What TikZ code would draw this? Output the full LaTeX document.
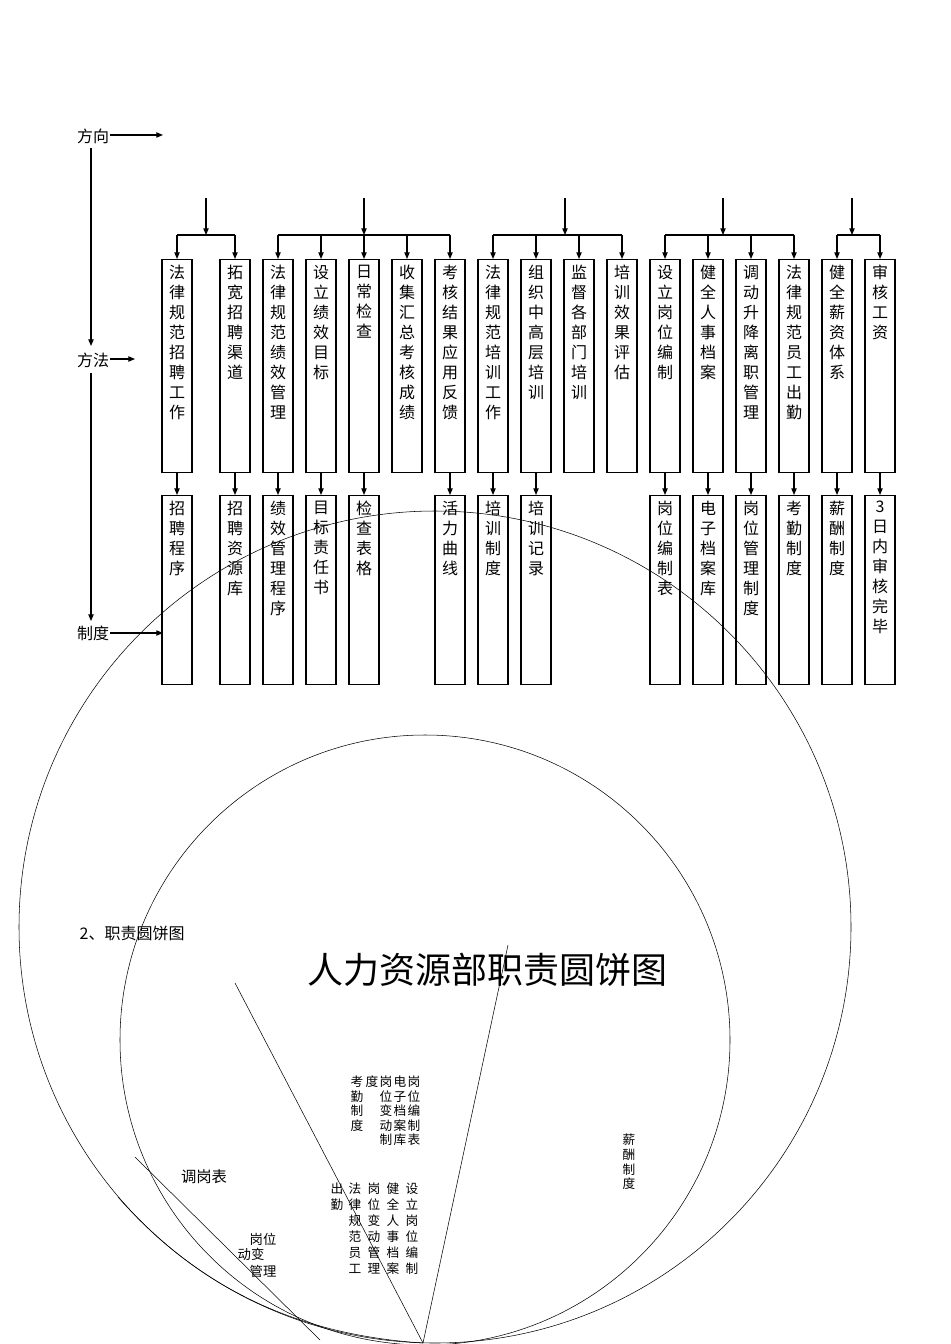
\documentclass[tikz,border=0pt]{standalone}
\usepackage{fontspec}
\setmainfont{Noto Sans CJK SC}
\usetikzlibrary{arrows.meta}
\tikzset{
 box/.style={draw,thick,minimum width=22.5pt,anchor=north,inner sep=0pt},
 vtxt/.style={align=center,font=\fontsize{12}{15}\selectfont,anchor=north},
 arr/.style={-{Triangle[length=5pt,width=4pt]},thick},
 small/.style={align=center,font=\fontsize{9.5}{10.8}\selectfont,anchor=north,inner sep=0pt},
 lbl/.style={font=\fontsize{12}{14}\selectfont}
}
\newcommand{\colbox}[5]{% name, x, ytop, ybot, text
 \node[box,minimum height={(#4-#3)*0.75pt}] (#1) at (#2,#3) {};
 \node[vtxt,inner sep=0pt] at (#2,#3+6) {#5};
}
\begin{document}
\begin{tikzpicture}[x=0.75pt,y=-0.75pt]
\useasboundingbox (0,0) rectangle (950,1344);
% left axis
\node[lbl] (fx) at (93,136) {方向};
\node[lbl] (ff) at (93,360) {方法};
\node[lbl] (zd) at (93,633) {制度};
\coordinate (fxe) at (163,135);
\coordinate (ffe) at (135,359);
\coordinate (zde) at (163,633);
\draw[arr] (110,135) -- (fxe);
\draw[arr] (110,359) -- (ffe);
\draw[arr] (110,633) -- (zde);
\draw[arr] (91,148) -- (91,346);
\draw[arr] (91,373) -- (91,621);
% top boxes
\colbox{a1}{177}{259}{472}{法\\律\\规\\范\\招\\聘\\工\\作}
\colbox{a2}{235}{259}{472}{拓\\宽\\招\\聘\\渠\\道}
\colbox{a3}{278}{259}{472}{法\\律\\规\\范\\绩\\效\\管\\理}
\colbox{a4}{321}{259}{472}{设\\立\\绩\\效\\目\\标}
\colbox{a5}{364}{259}{472}{日\\常\\检\\查}
\colbox{a6}{407}{259}{472}{收\\集\\汇\\总\\考\\核\\成\\绩}
\colbox{a7}{450}{259}{472}{考\\核\\结\\果\\应\\用\\反\\馈}
\colbox{a8}{493}{259}{472}{法\\律\\规\\范\\培\\训\\工\\作}
\colbox{a9}{536}{259}{472}{组\\织\\中\\高\\层\\培\\训}
\colbox{a10}{579}{259}{472}{监\\督\\各\\部\\门\\培\\训}
\colbox{a11}{622}{259}{472}{培\\训\\效\\果\\评\\估}
\colbox{a12}{665}{259}{472}{设\\立\\岗\\位\\编\\制}
\colbox{a13}{708}{259}{472}{健\\全\\人\\事\\档\\案}
\colbox{a14}{751}{259}{472}{调\\动\\升\\降\\离\\职\\管\\理}
\colbox{a15}{794}{259}{472}{法\\律\\规\\范\\员\\工\\出\\勤}
\colbox{a16}{837}{259}{472}{健\\全\\薪\\资\\体\\系}
\colbox{a17}{880}{259}{472}{审\\核\\工\\资}
% bottom boxes
\colbox{b1}{177}{495}{684}{招\\聘\\程\\序}
\colbox{b2}{235}{495}{684}{招\\聘\\资\\源\\库}
\colbox{b3}{278}{495}{684}{绩\\效\\管\\理\\程\\序}
\colbox{b4}{321}{495}{684}{目\\标\\责\\任\\书}
\colbox{b5}{364}{495}{684}{检\\查\\表\\格}
\colbox{b7}{450}{495}{684}{活\\力\\曲\\线}
\colbox{b8}{493}{495}{684}{培\\训\\制\\度}
\colbox{b9}{536}{495}{684}{培\\训\\记\\录}
\colbox{b12}{665}{495}{684}{岗\\位\\编\\制\\表}
\colbox{b13}{708}{495}{684}{电\\子\\档\\案\\库}
\colbox{b14}{751}{495}{684}{岗\\位\\管\\理\\制\\度}
\colbox{b15}{794}{495}{684}{考\\勤\\制\\度}
\colbox{b16}{837}{495}{684}{薪\\酬\\制\\度}
\colbox{b17}{880}{495}{684}{3\\日\\内\\审\\核\\完\\毕}
\foreach \i in {1,2,3,4,5,7,8,9,12,13,14,15,16,17}{\draw[arr] (a\i.south) -- (b\i.north);}
% hubs
\foreach \h/\l/\r in {206/177/235, 364/278/450, 565/493/622, 723/665/794, 852/837/880}{
 \draw[arr] (\h,198) -- (\h,235);
 \draw[thick] (\l,235) -- (\r,235);
}
\foreach \i in {1,...,17}{\draw[arr] (a\i.north |- 0,235) -- (a\i.north);}
% pie section
\node[anchor=west,font=\fontsize{12}{14}\selectfont] (t2) at (75,933) {2、职责圆饼图};
\node[font=\fontsize{27}{30}\selectfont] (title) at (487,970) {人力资源部职责圆饼图};
\draw (435,927) circle[radius=416];
\draw (425,1040) circle[radius=305];
\coordinate (c) at (423,1343);
\draw (c) -- (235,983);
\draw (c) -- (508,945);
\draw (135,1157) -- (320,1340);
\draw (118,1197) .. controls (200,1290) and (300,1335) .. (423,1343);
% pie labels
\node[small] at (357,1076) {考\\勤\\制\\度};
\node[small] at (372,1076) {度};
\node[small] at (386,1076) {岗\\位\\变\\动\\制};
\node[small] at (400,1076) {电\\子\\档\\案\\库};
\node[small] at (414,1076) {岗\\位\\编\\制\\表};
\node[small,font=\fontsize{9.5}{12}\selectfont] at (337,1183) {出\\勤};
\node[small,font=\fontsize{9.5}{12}\selectfont] at (355,1183) {法\\律\\规\\范\\员\\工};
\node[small,font=\fontsize{9.5}{12}\selectfont] at (374,1183) {岗\\位\\变\\动\\管\\理};
\node[small,font=\fontsize{9.5}{12}\selectfont] at (393,1183) {健\\全\\人\\事\\档\\案};
\node[small,font=\fontsize{9.5}{12}\selectfont] at (412,1183) {设\\立\\岗\\位\\编\\制};
\node[small,font=\fontsize{9.5}{11}\selectfont] at (629,1134) {薪\\酬\\制\\度};
\node[font=\fontsize{11.5}{13}\selectfont] at (204,1177) {调岗表};
\node[font=\fontsize{10}{12}\selectfont] at (263,1239) {岗位};
\node[font=\fontsize{10}{12}\selectfont] at (251,1254) {动变};
\node[font=\fontsize{10}{12}\selectfont] at (263,1271) {管理};
\end{tikzpicture}
\end{document}
